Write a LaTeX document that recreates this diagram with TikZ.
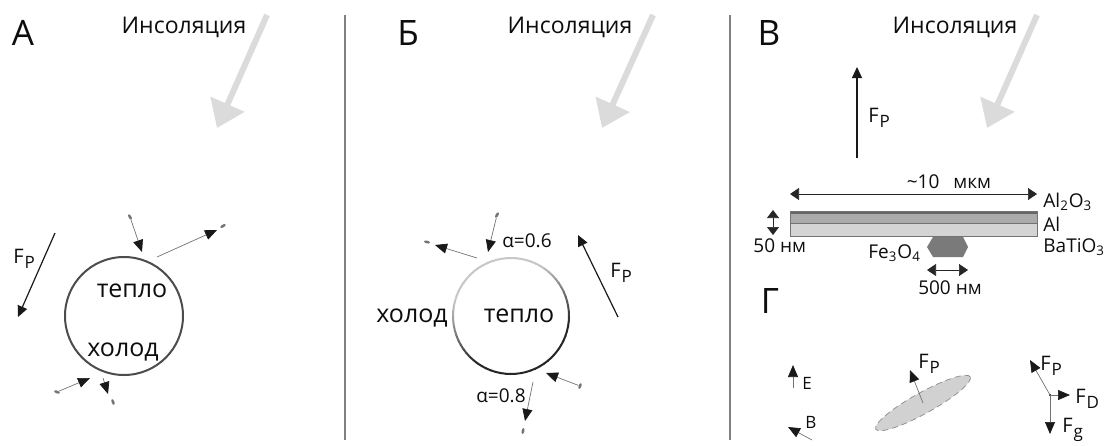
\documentclass[tikz,border=0pt]{standalone}
\usepackage{fontspec}
\setmainfont{Open Sans}
\usetikzlibrary{arrows.meta,shapes.geometric,calc}

\newcommand{\Fsub}[1]{F\kern0.4pt\raisebox{-0.55ex}{\fontsize{8.5}{9}\selectfont #1}}

\begin{document}
\begin{tikzpicture}[x=0.5pt,y=-0.5pt,
    every node/.style={text=black!95,inner sep=0pt},
    letter/.style={font=\fontsize{17.5}{18}\selectfont,anchor=base},
    lbl/.style={font=\fontsize{11.5}{12}\selectfont,anchor=base},
    big/.style={font=\fontsize{12.5}{13}\selectfont,anchor=base},
    force lbl/.style={font=\fontsize{10}{11}\selectfont,anchor=base west},
    small/.style={font=\fontsize{9.5}{10}\selectfont,anchor=base},
    sun/.style={draw=black!14,line width=3pt,-{Triangle[length=13pt,width=18pt]}},
    force/.style={draw=black!90,line width=0.6pt,-{Triangle[length=5.5pt,width=5pt]}},
    flux/.style={draw=black!55,line width=0.35pt,-{Triangle[length=6pt,width=5pt,color=black!90]}},
    dim/.style={draw=black!85,line width=0.35pt,{Triangle[length=4.5pt,width=6pt]}-{Triangle[length=4.5pt,width=6pt]}},
    particle/.style={ellipse,fill=black!55,minimum width=3pt,minimum height=1.4pt,inner sep=0pt},
    sep/.style={draw=black!50,line width=1pt}]
\useasboundingbox (0,0) rectangle (1106,445);

\draw[sep] (345,15) -- (345,440);
\draw[sep] (730,15) -- (730,440);

% A
\node[letter] (letA) at (23,45) {А};
\node[lbl] (insA) at (184,33) {Инсоляция};
\coordinate (sunA0) at (267,15);
\coordinate (sunA1) at (217,128);
\draw[sun] (sunA0) -- (sunA1);
\node[circle,draw=black!70,line width=1pt,minimum size=59pt] (circA) at (124,316) {};
\node[big] (warmA) at (132,297) {тепло};
\node[big] (coldA) at (123,356) {холод};
\coordinate (fA0) at (55,233);
\coordinate (fA1) at (18,317);
\draw[force] (fA0) -- (fA1);
\node[force lbl] (fpA) at (13,263) {\Fsub{P}};
\node[particle,rotate=-60] (pA1) at (130,217) {};
\node[particle,rotate=30] (pA2) at (223,226) {};
\node[particle,rotate=-20] (pA3) at (57,392) {};
\node[particle,rotate=-70] (pA4) at (113,402) {};
\coordinate (tA1) at (142,252);
\coordinate (sA2) at (157,257);
\coordinate (tA2) at (217,230);
\coordinate (tA3) at (90,378);
\coordinate (sA4) at (103,378);
\coordinate (tA4) at (108,394);
\draw[flux] (pA1) -- (tA1);
\draw[flux] (sA2) -- (tA2);
\draw[flux] (pA3) -- (tA3);
\draw[flux] (sA4) -- (tA4);

% B
\node[letter] (letB) at (408,45) {Б};
\node[lbl] (insB) at (570,33) {Инсоляция};
\coordinate (sunB0) at (653,15);
\coordinate (sunB1) at (602,128);
\draw[sun] (sunB0) -- (sunB1);
\coordinate (circB) at (511,316);
\foreach \a in {0,5,...,355}{
  \pgfmathsetmacro\d{min(1,max(0,0.55+0.9*cos(65-\a)))}
  \pgfmathtruncatemacro\s{22+63*\d}
  \draw[black!\s,line width=1pt] ($(circB)+(\a:58)$) arc[start angle=\a,end angle=\a+5.6,radius=58];
}
\node[big] (coldB) at (412,322) {холод};
\node[big] (warmB) at (519,322) {тепло};
\node[small] (alB1) at (527,247) {α=0.6};
\node[small] (alB2) at (501,402) {α=0.8};
\coordinate (fB0) at (618,317);
\coordinate (fB1) at (578,235);
\draw[force] (fB0) -- (fB1);
\node[force lbl] (fpB) at (610,277) {\Fsub{P}};
\node[particle,rotate=60] (pB1) at (497,215) {};
\node[particle,rotate=-15] (pB2) at (427,242) {};
\node[particle,rotate=70] (pB3) at (580,386) {};
\node[particle,rotate=80] (pB4) at (523,431) {};
\coordinate (tB1) at (488,252);
\coordinate (sB2) at (477,258);
\coordinate (tB2) at (435,245);
\coordinate (tB3) at (546,373);
\coordinate (sB4) at (533,382);
\coordinate (tB4) at (525,421);
\draw[flux] (pB1) -- (tB1);
\draw[flux] (sB2) -- (tB2);
\draw[flux] (pB3) -- (tB3);
\draw[flux] (sB4) -- (tB4);

% C
\node[letter] (letC) at (769,45) {В};
\node[lbl] (insC) at (955,33) {Инсоляция};
\coordinate (sunC0) at (1037,15);
\coordinate (sunC1) at (987,128);
\draw[sun] (sunC0) -- (sunC1);
\coordinate (fC0) at (857,158);
\coordinate (fC1) at (857,67);
\draw[force] (fC0) -- (fC1);
\node[force lbl] (fpC) at (868,122) {\Fsub{P}};
\fill[black!17] (790,224) rectangle (1037,236);
\fill[black!33] (790,213.5) rectangle (1037,224);
\fill[black!60] (790,211) rectangle (1037,213.5);
\draw[black!55,line width=0.3pt] (790,223.5) -- (1037,223.5);
\draw[black!55,line width=0.35pt] (790,211) rectangle (1037,236);
\coordinate (wL) at (790,194);
\coordinate (wR) at (1037,194);
\draw[dim] (wL) -- (wR);
\node[small] (wlbl) at (949,188) {\textasciitilde10\hspace{7pt}мкм};
\node[small,anchor=base west] (l1) at (1043,207) {Al\textsubscript{2}O\textsubscript{3}};
\node[small,anchor=base west] (l2) at (1043,231) {Al};
\node[small,anchor=base west] (l3) at (1043,252) {BaTiO\textsubscript{3}};
\coordinate (hT) at (773,210);
\coordinate (hB) at (773,235);
\draw[dim,{Triangle[length=4pt,width=6pt]}-{Triangle[length=4pt,width=6pt]}] (hT) -- (hB);
\node[small,anchor=base west] (hlbl) at (753,252) {50 нм};
\fill[black!52] (933,237) -- (963,237) -- (968,247) -- (963,257) -- (933,257) -- (927,247) -- cycle;
\node[small,anchor=base west] (fe) at (868,258) {Fe\textsubscript{3}O\textsubscript{4}};
\coordinate (gL) at (927,270);
\coordinate (gR) at (968,270);
\draw[dim] (gL) -- (gR);
\node[small] (glbl) at (950,294) {500 нм};

% D
\node[letter] (letD) at (770,313) {Г};
\coordinate (e0) at (793,388);
\coordinate (e1) at (793,365);
\draw[flux] (e0) -- (e1);
\node[force lbl,font=\fontsize{8.5}{9}\selectfont] (elbl) at (802,389) {E};
\coordinate (b0) at (812,440);
\coordinate (b1) at (788,427);
\draw[flux] (b0) -- (b1);
\node[force lbl,font=\fontsize{8.5}{9}\selectfont] (blbl) at (805,428) {B};
\node[ellipse,fill=black!18,draw=black!45,densely dashed,line width=0.35pt,
  minimum width=54pt,minimum height=10.5pt,rotate=29] (grain) at (923,403) {};
\coordinate (gf1) at (910,370);
\draw[flux] (grain.center) -- (gf1);
\node[force lbl] (fpD) at (918,368) {\Fsub{P}};
\coordinate (o) at (1050,395);
\coordinate (op) at (1030,360);
\coordinate (od) at (1070,395);
\coordinate (og) at (1050,434);
\fill[black] (o) circle[radius=0.6pt];
\draw[flux] (o) -- (op);
\draw[flux] (o) -- (od);
\draw[flux] (o) -- (og);
\node[force lbl] (fpE) at (1040,370) {\Fsub{P}};
\node[force lbl] (fdE) at (1075,403) {\Fsub{D}};
\node[force lbl] (fgE) at (1062,432) {\Fsub{g}};
\end{tikzpicture}
\end{document}
